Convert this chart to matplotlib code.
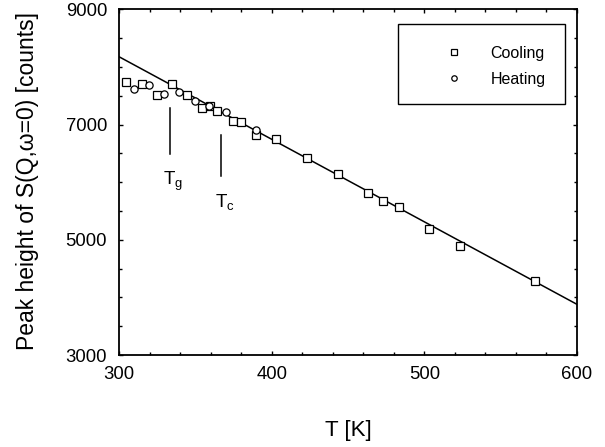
import matplotlib
matplotlib.use("Agg")
import matplotlib.pyplot as plt
from matplotlib.patches import Rectangle
from matplotlib.ticker import MultipleLocator

plt.rcParams['font.family'] = ['Liberation Sans', 'DejaVu Sans']
plt.rcParams['mathtext.default'] = 'regular'

# Data
cool_T = [304.4, 314.9, 324.7, 334.5, 344.7, 354.6, 359.6, 364.4, 374.9, 379.7,
          389.5, 402.6, 422.9, 443.2, 463.3, 473.1, 483.2, 503.2, 523.3, 572.4]
cool_V = [7733, 7704, 7507, 7698, 7513, 7292, 7327, 7235, 7061, 7044,
          6819, 6749, 6414, 6142, 5817, 5673, 5574, 5182, 4897, 4290]
heat_T = [309.8, 319.8, 329.7, 339.5, 349.6, 359.1, 369.9, 389.5]
heat_V = [7612, 7686, 7530, 7565, 7414, 7327, 7212, 6905]
fit_T = [300, 600]
fit_V = [8177, 3879]

# Annotations: marker lines and labels
tg_T, tg_V = 333.4, [7282, 6484]
tc_T, tc_V = 366.6, [6819, 6107]
tg_label_pos = (328.8, 5951)
tc_label_pos = (362.9, 5574)

x_ticks = [300, 400, 500, 600]
y_ticks = [3000, 5000, 7000, 9000]

W, H = 605, 447
fig = plt.figure(figsize=(W / 100, H / 100), dpi=100)
L, R, T, B = 119, 577, 9.3, 355
ax = fig.add_axes([L / W, 1 - B / H, (R - L) / W, (B - T) / H])

ax.plot(fit_T, fit_V, color='black', lw=1.1, zorder=2)
ax.plot(cool_T, cool_V, linestyle='none', marker='s', ms=5.2, mfc='white',
        mec='black', mew=0.9, label='Cooling', zorder=3)
ax.plot(heat_T, heat_V, linestyle='none', marker='o', ms=5.2, mfc='white',
        mec='black', mew=0.9, label='Heating', zorder=3)

ax.plot([tg_T, tg_T], tg_V, color='black', lw=1.1)
ax.plot([tc_T, tc_T], tc_V, color='black', lw=1.1)
ax.text(*tg_label_pos, r'T$_{g}$', fontsize=13.5, ha='left', va='baseline')
ax.text(*tc_label_pos, r'T$_{c}$', fontsize=13.5, ha='left', va='baseline')

ax.set_xlim(300, 600)
ax.set_ylim(3000, 9000)
ax.set_xticks(x_ticks)
ax.set_yticks(y_ticks)
ax.xaxis.set_minor_locator(MultipleLocator(20))
ax.yaxis.set_minor_locator(MultipleLocator(500))
ax.tick_params(which='both', direction='in', top=True, right=True, width=1.0)
ax.tick_params(which='major', length=3.0)
ax.tick_params(which='minor', length=2.0)
ax.tick_params(axis='x', which='major', labelsize=13.3, pad=8)
ax.tick_params(axis='y', which='major', labelsize=13.3, pad=8.6)
for s in ax.spines.values():
    s.set_linewidth(1.3)

ax.set_xlabel('T [K]', fontsize=16)
ax.set_ylabel('Peak height of S(Q,ω=0) [counts]', fontsize=16.5)
ax.xaxis.set_label_coords(0.5, -0.188)
ax.yaxis.set_label_coords(-0.175, 0.502)

# Legend box
bx0, bx1, by0, by1 = 398, 565, 24, 104
ax.add_patch(Rectangle(((bx0 - L) / (R - L), (B - by1) / (B - T)),
                       (bx1 - bx0) / (R - L), (by1 - by0) / (B - T),
                       transform=ax.transAxes, fill=False, ec='black', lw=1.0,
                       zorder=4))
leg = ax.legend(loc='upper left', frameon=False, fontsize=11.5,
                bbox_to_anchor=((446 - L) / (R - L), (B - 46) / (B - T)),
                borderpad=0, borderaxespad=0, handlelength=1.0,
                handletextpad=1.8, labelspacing=0.68, markerscale=0.75)

fig.savefig('out.png', dpi=100)
